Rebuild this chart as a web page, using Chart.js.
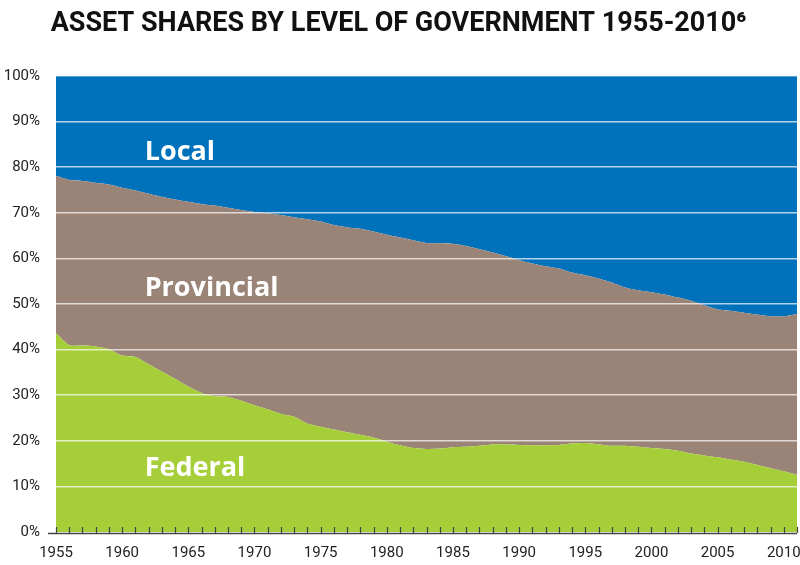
<!DOCTYPE html>
<html>
<head>
<meta charset="utf-8">
<script src="https://cdn.jsdelivr.net/npm/chart.js@4.4.1/dist/chart.umd.min.js"></script>
<style>
html,body{margin:0;padding:0;background:#fff;}
#wrap{width:800px;height:565px;position:relative;}
</style>
</head>
<body>
<div id="wrap"><canvas id="c"></canvas></div>
<script>
const years = [];
for (let y = 1955; y <= 2011; y++) years.push(String(y));

// Federal share (%)
const federal = [43.6,41.0,40.9,40.7,40.1,38.7,38.4,36.8,35.2,33.6,
  31.9,30.5,29.8,29.6,28.8,27.8,26.9,25.9,25.3,23.8,
  23.1,22.5,21.9,21.3,20.7,19.8,19.0,18.4,18.2,18.3,
  18.6,18.7,18.9,19.2,19.2,19.1,19.0,19.0,19.1,19.4,
  19.5,19.2,18.9,18.9,18.7,18.4,18.2,17.8,17.2,16.8,
  16.4,15.9,15.4,14.7,14.0,13.3,12.5];
// Provincial share (%)
const provincial = [34.5,36.2,36.1,35.9,36.1,36.8,36.5,37.4,38.3,39.3,
  40.5,41.4,41.8,41.5,41.8,42.4,43.0,43.6,43.7,44.8,
  45.0,44.8,44.9,45.2,45.2,45.4,45.6,45.6,45.2,45.0,
  44.6,44.0,43.1,42.1,41.3,40.5,39.9,39.3,38.7,37.5,
  36.8,36.4,35.8,34.7,34.3,34.2,33.9,33.6,33.5,32.9,
  32.4,32.6,32.7,33.0,33.3,34.0,35.3];
// Local share (%)
const local = [21.9,22.8,23.0,23.4,23.8,24.5,25.1,25.8,26.5,27.1,
  27.6,28.1,28.4,28.9,29.4,29.8,30.1,30.5,31.0,31.4,
  31.9,32.7,33.2,33.5,34.1,34.8,35.4,36.0,36.6,36.7,
  36.8,37.3,38.0,38.7,39.5,40.4,41.1,41.7,42.2,43.1,
  43.7,44.4,45.3,46.4,47.0,47.4,47.9,48.6,49.3,50.3,
  51.2,51.5,51.9,52.3,52.7,52.7,52.2];
const seriesNames = ['Federal','Provincial','Local'];
const seriesColors = ['#a6ce39','#9a8477','#0071bb'];
const yTicks = [0,10,20,30,40,50,60,70,80,90,100];
// label anchors: [year index, value]
const labelAnchors = [[6.7,14.0],[6.7,53.4],[6.7,83.2]];

const overlay = {
  id: 'overlay',
  afterDraw(chart) {
    const ctx = chart.ctx;
    const xs = chart.scales.x, ys = chart.scales.y;
    const ca = chart.chartArea;
    const y0 = ys.getPixelForValue(0);
    ctx.save();
    // ticks every year, pointing up
    ctx.strokeStyle = '#444';
    ctx.lineWidth = 1.2;
    years.forEach((yr, i) => {
      const x = Math.round(xs.getPixelForValue(i)) + 0.5;
      ctx.beginPath();
      ctx.moveTo(x, y0 + 1);
      ctx.lineTo(x, y0 - 5);
      ctx.stroke();
    });
    // axis line
    ctx.lineWidth = 1.5;
    ctx.beginPath();
    ctx.moveTo(ca.left - 8, y0 + 1.5);
    ctx.lineTo(ca.right, y0 + 1.5);
    ctx.stroke();
    // series labels
    ctx.fillStyle = '#ffffff';
    ctx.font = 'bold 27px "Open Sans", sans-serif';
    ctx.textBaseline = 'middle';
    ctx.textAlign = 'left';
    seriesNames.forEach((n, i) => {
      const a = labelAnchors[i];
      ctx.fillText(n, xs.getPixelForValue(a[0]), ys.getPixelForValue(a[1]));
    });
    ctx.restore();
  }
};

new Chart(document.getElementById('c'), {
  type: 'line',
  data: {
    labels: years,
    datasets: [
      {label: seriesNames[0], data: federal, backgroundColor: seriesColors[0], fill: 'origin'},
      {label: seriesNames[1], data: provincial, backgroundColor: seriesColors[1], fill: '-1'},
      {label: seriesNames[2], data: local, backgroundColor: seriesColors[2], fill: '-1'}
    ].map(d => Object.assign(d, {borderWidth: 0, borderColor: d.backgroundColor, pointRadius: 0, tension: 0.25}))
  },
  plugins: [overlay],
  options: {
    responsive: true,
    maintainAspectRatio: false,
    animation: false,
    layout: {padding: {left: 0, right: 3, top: 0, bottom: 0}},
    plugins: {
      legend: {display: false},
      tooltip: {enabled: false},
      title: {
        display: true,
        text: 'ASSET SHARES BY LEVEL OF GOVERNMENT 1955-2010\u2076',
        color: '#111',
        font: {family: 'Roboto, sans-serif', size: 27, weight: 'bold'},
        padding: {top: 8, bottom: 35.6},
        lineHeight: 1.2
      }
    },
    scales: {
      x: {
        offset: false,
        grid: {display: false, drawTicks: false},
        border: {display: false},
        ticks: {
          autoSkip: false, maxRotation: 0, minRotation: 0, padding: 12,
          color: '#222',
          font: {family: 'Roboto, sans-serif', size: 15},
          callback: function(v, i) { const y = Number(years[i]); return (y % 5 === 0) ? years[i] : ''; }
        },
        afterFit(s) { s.height = 33; s.paddingRight = 0; }
      },
      y: {
        stacked: true,
        min: 0, max: 100,
        afterBuildTicks(s) { s.ticks = yTicks.map(v => ({value: v})); },
        grid: {
          z: 1,
          color: ctx => (ctx.tick && ctx.tick.value === 0) ? 'rgba(0,0,0,0)' : 'rgba(255,255,255,0.7)',
          lineWidth: 1.5,
          drawTicks: false
        },
        border: {display: false},
        ticks: {
          padding: 16,
          color: '#222',
          font: {family: 'Roboto, sans-serif', size: 15},
          callback: v => v + '%'
        },
        afterFit(s) { s.width = 56; }
      }
    }
  }
});
</script>
</body>
</html>
